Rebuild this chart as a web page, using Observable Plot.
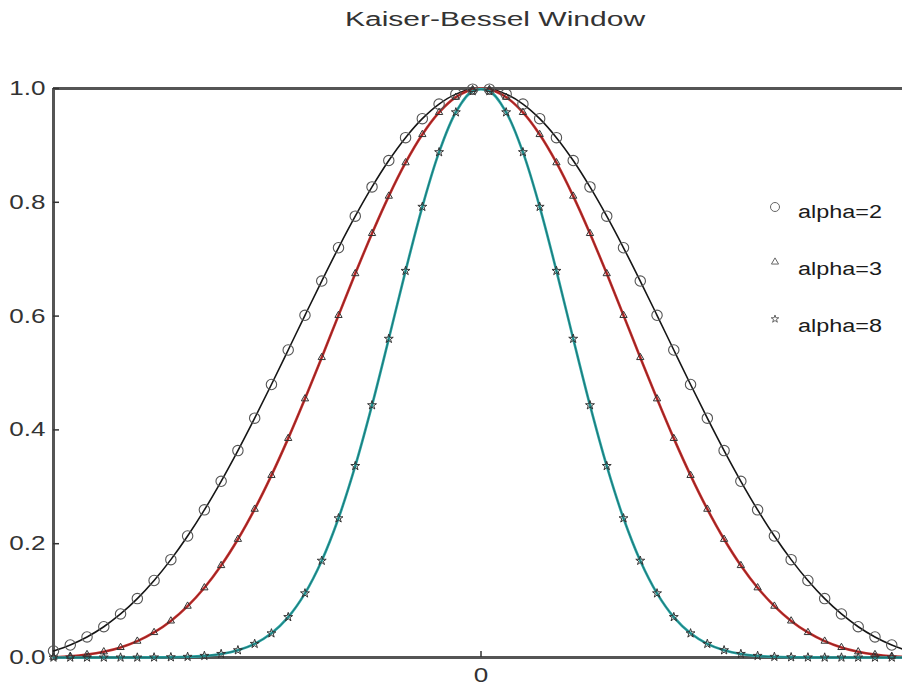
<!DOCTYPE html>
<html>
<head>
<meta charset="utf-8">
<script src="https://cdn.jsdelivr.net/npm/d3@7"></script>
<script src="https://cdn.jsdelivr.net/npm/@observablehq/plot@0.6"></script>
<style>
html, body { margin: 0; padding: 0; background: #fff; }
body { width: 902px; height: 686px; overflow: hidden; position: relative; font-family: "Liberation Sans", Arial, sans-serif; }
#title { height: 44px; position: relative; }
#title span { position: absolute; left: 495px; top: 9px; font-size: 20px; line-height: 20px; color: #333; white-space: nowrap; transform: translateX(-50%) scaleX(1.5); }
#chart svg { display: block; }
#legend { position: absolute; left: 0; top: 0; width: 902px; height: 686px; pointer-events: none; }
.leg-text { position: absolute; left: 798px; font-size: 18px; line-height: 18px; color: #1a1a1a; white-space: nowrap; transform-origin: left center; transform: scaleX(1.3); }
</style>
</head>
<body>
<div id="title"><span>Kaiser-Bessel Window</span></div>
<div id="chart"></div>
<script>
// sample positions (window index, centred on 0)
const n = [-25.5, -24.5, -23.5, -22.5, -21.5, -20.5, -19.5, -18.5, -17.5, -16.5, -15.5, -14.5, -13.5,
           -12.5, -11.5, -10.5, -9.5, -8.5, -7.5, -6.5, -5.5, -4.5, -3.5, -2.5, -1.5, -0.5,
           0.5, 1.5, 2.5, 3.5, 4.5, 5.5, 6.5, 7.5, 8.5, 9.5, 10.5, 11.5, 12.5,
           13.5, 14.5, 15.5, 16.5, 17.5, 18.5, 19.5, 20.5, 21.5, 22.5, 23.5, 24.5, 25.5];

const alpha2 = [0.0115, 0.0220, 0.0361, 0.0541, 0.0765, 0.1035, 0.1353, 0.1720, 0.2135, 0.2595, 0.3097, 0.3636, 0.4206,
                0.4798, 0.5404, 0.6014, 0.6616, 0.7201, 0.7756, 0.8270, 0.8734, 0.9136, 0.9470, 0.9726, 0.9901, 0.9989,
                0.9989, 0.9901, 0.9726, 0.9470, 0.9136, 0.8734, 0.8270, 0.7756, 0.7201, 0.6616, 0.6014, 0.5404, 0.4798,
                0.4206, 0.3636, 0.3097, 0.2595, 0.2135, 0.1720, 0.1353, 0.1035, 0.0765, 0.0541, 0.0361, 0.0220, 0.0115];

const alpha3 = [0.0006, 0.0022, 0.0052, 0.0101, 0.0177, 0.0288, 0.0440, 0.0643, 0.0903, 0.1226, 0.1617, 0.2078, 0.2607,
                0.3201, 0.3851, 0.4547, 0.5273, 0.6013, 0.6747, 0.7453, 0.8109, 0.8696, 0.9192, 0.9580, 0.9847, 0.9983,
                0.9983, 0.9847, 0.9580, 0.9192, 0.8696, 0.8109, 0.7453, 0.6747, 0.6013, 0.5273, 0.4547, 0.3851, 0.3201,
                0.2607, 0.2078, 0.1617, 0.1226, 0.0903, 0.0643, 0.0440, 0.0288, 0.0177, 0.0101, 0.0052, 0.0022, 0.0006];

const alpha8 = [0, 0, 0, 0, 0, 0, 0.0002, 0.0005, 0.0012, 0.0029, 0.0063, 0.0128, 0.0240,
                0.0425, 0.0711, 0.1128, 0.1701, 0.2447, 0.3366, 0.4434, 0.5602, 0.6795, 0.7921, 0.8881, 0.9582, 0.9953,
                0.9953, 0.9582, 0.8881, 0.7921, 0.6795, 0.5602, 0.4434, 0.3366, 0.2447, 0.1701, 0.1128, 0.0711, 0.0425,
                0.0240, 0.0128, 0.0063, 0.0029, 0.0012, 0.0005, 0.0002, 0, 0, 0, 0, 0, 0];

const seriesNames = ["alpha=2", "alpha=3", "alpha=8"];
const yTicks = [0, 0.2, 0.4, 0.6, 0.8, 1.0];
const xTicks = [0];

const toRows = (vals) => vals.map((v, i) => ({n: n[i], w: v}));
const r2 = toRows(alpha2), r3 = toRows(alpha3), r8 = toRows(alpha8);

const chart = Plot.plot({
  width: 902,
  height: 642,
  marginLeft: 53,
  marginRight: 0,
  marginTop: 44,
  marginBottom: 29,
  x: {domain: [n[0], n[n.length - 1]], range: [53, 908], axis: null},
  y: {domain: [0, 1], axis: null},
  style: {fontFamily: "Liberation Sans, Arial, sans-serif", fontSize: "20px", color: "#333", background: "white", overflow: "visible"},
  marks: [
    Plot.ruleY([0, 1], {stroke: "#555", strokeWidth: 3}),
    Plot.ruleX([n[0]], {stroke: "#555", strokeWidth: 3}),
    Plot.axisY(yTicks, {anchor: "left", tickSize: -6, tickPadding: 14, tickFormat: d3.format(".1f"), fontSize: 20, strokeWidth: 1.5, label: null}),
    Plot.axisX(xTicks, {anchor: "bottom", tickSize: -6, tickPadding: 16, tickFormat: d3.format("d"), fontSize: 20, strokeWidth: 1.5, label: null}),
    Plot.line(r2, {x: "n", y: "w", stroke: "#161616", strokeWidth: 1.6, curve: "catmull-rom"}),
    Plot.line(r3, {x: "n", y: "w", stroke: "#c4302e", strokeWidth: 2.6, curve: "catmull-rom"}),
    Plot.line(r3, {x: "n", y: "w", stroke: "#5a1010", strokeWidth: 0.8, strokeOpacity: 0.6, curve: "catmull-rom"}),
    Plot.line(r8, {x: "n", y: "w", stroke: "#2aa6a6", strokeWidth: 2.6, curve: "catmull-rom"}),
    Plot.line(r8, {x: "n", y: "w", stroke: "#0d3c3c", strokeWidth: 0.8, strokeOpacity: 0.6, curve: "catmull-rom"}),
    Plot.dot(r2, {x: "n", y: "w", r: 5.2, stroke: "#555", strokeWidth: 1.1, fill: "none"}),
    Plot.dot(r3, {x: "n", y: "w", symbol: "triangle", r: 2.7, stroke: "#333", strokeWidth: 1, fill: "none"}),
    Plot.dot(r8, {x: "n", y: "w", symbol: "star", r: 2.8, stroke: "#333", strokeWidth: 1, fill: "none"})
  ]
});
document.getElementById("chart").appendChild(chart);

// horizontally stretch tick labels to match the reference lettering
chart.querySelectorAll('[aria-label$="tick label"] text').forEach(t => {
  const w = t.getComputedTextLength();
  t.setAttribute("textLength", (w * 1.3).toFixed(1));
  t.setAttribute("lengthAdjust", "spacingAndGlyphs");
});

// legend (inside the plot area, top right)
const legendRows = [
  {name: seriesNames[0], sym: d3.symbolCircle, size: 64, sy: 207, base: 218},
  {name: seriesNames[1], sym: d3.symbolTriangle, size: 22, sy: 262, base: 275},
  {name: seriesNames[2], sym: d3.symbolStar, size: 18, sy: 319, base: 332}
];
const leg = d3.select("body").append("svg").attr("id", "legend").attr("width", 902).attr("height", 686);
legendRows.forEach(r => {
  leg.append("path")
    .attr("d", d3.symbol(r.sym, r.size)())
    .attr("transform", `translate(775,${r.sy})`)
    .attr("fill", "none").attr("stroke", "#666").attr("stroke-width", 1);
  d3.select("body").append("div").attr("class", "leg-text")
    .style("top", (r.base - 15.2) + "px").text(r.name);
});
</script>
</body>
</html>
